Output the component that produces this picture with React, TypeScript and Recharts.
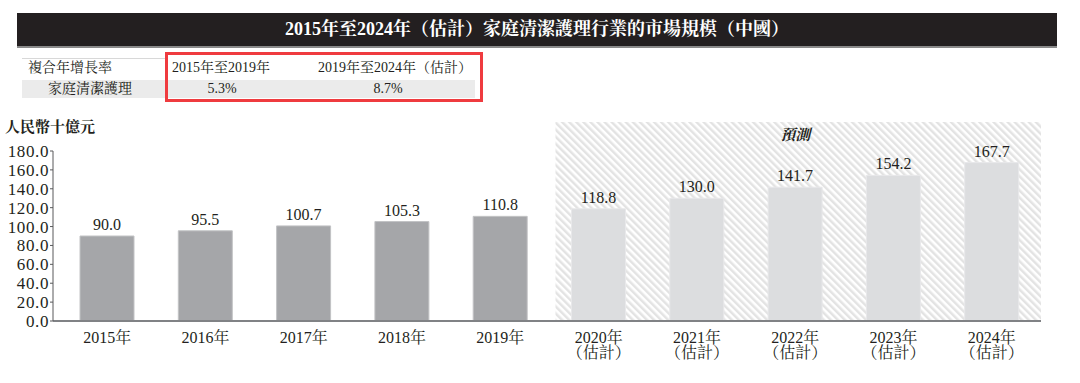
import React from "react";
import {
  BarChart,
  Bar,
  Cell,
  XAxis,
  YAxis,
  LabelList,
  ReferenceArea,
} from "recharts";

const years = ["2015年", "2016年", "2017年", "2018年", "2019年", "2020年", "2021年", "2022年", "2023年", "2024年"];
const marketSize = [90.0, 95.5, 100.7, 105.3, 110.8, 118.8, 130.0, 141.7, 154.2, 167.7];
const isForecast = [false, false, false, false, false, true, true, true, true, true];
const yTicks = [0, 20, 40, 60, 80, 100, 120, 140, 160, 180];

const cagrLabel = "複合年增長率";
const cagrRow = "家庭清潔護理";
const cagrPeriods = ["2015年至2019年", "2019年至2024年（估計）"];
const cagrValues = ["5.3%", "8.7%"];

const title = "2015年至2024年（估計）家庭清潔護理行業的市場規模（中國）";
const unitLabel = "人民幣十億元";
const forecastLabel = "預測";
const estimateNote = "（估計）";

const data = years.map((year, i) => ({
  year,
  value: marketSize[i],
  forecast: isForecast[i],
}));

const FONT = "'Liberation Serif', 'Noto Serif CJK TC', 'Noto Sans CJK TC', serif";
const TEXT = "#231f20";

function YearTick({ x, y, payload, index }: any) {
  const forecast = isForecast[index];
  return (
    <text x={x} y={y} textAnchor="middle" fill={TEXT} fontSize={16} fontFamily={FONT}>
      <tspan x={x} dy={14}>{payload.value}</tspan>
      {forecast && <tspan x={x} dy={15}>{estimateNote}</tspan>}
    </text>
  );
}

function HatchShape(props: any) {
  const { x, y, width, height } = props;
  return <rect x={x + 6} y={y} width={width - 6} height={height} fill="url(#hatch)" />;
}

export default function App() {
  return (
    <div
      style={{
        position: "absolute",
        left: 0,
        top: 0,
        width: 1080,
        height: 383,
        background: "#fff",
        fontFamily: FONT,
        color: TEXT,
        overflow: "hidden",
      }}
    >
      {/* title bar */}
      <div
        style={{
          position: "absolute",
          left: 17,
          top: 13,
          width: 1040,
          height: 33,
          background: "#231f20",
          borderBottom: "2px solid #8a8a8a",
          color: "#fff",
          fontWeight: "bold",
          fontSize: 18,
          lineHeight: "33px",
          textAlign: "center",
        }}
      >
        {title}
      </div>

      {/* CAGR table */}
      <div style={{ position: "absolute", left: 22, top: 58, width: 145, height: 20, borderTop: "1px solid #d8d8d8" }} />
      <div style={{ position: "absolute", left: 22, top: 80, width: 453, height: 18, background: "#ebebeb" }} />
      <div style={{ position: "absolute", left: 28, top: 58, fontSize: 14, lineHeight: "20px" }}>{cagrLabel}</div>
      <div style={{ position: "absolute", left: 48, top: 80, width: 84, textAlign: "center", fontSize: 14, lineHeight: "18px" }}>{cagrRow}</div>
      <div style={{ position: "absolute", left: 172, top: 58, fontSize: 14, lineHeight: "20px" }}>{cagrPeriods[0]}</div>
      <div style={{ position: "absolute", left: 318, top: 58, fontSize: 14, lineHeight: "20px" }}>{cagrPeriods[1]}</div>
      <div style={{ position: "absolute", left: 172, top: 80, width: 100, textAlign: "center", fontSize: 14, lineHeight: "18px" }}>{cagrValues[0]}</div>
      <div style={{ position: "absolute", left: 338, top: 80, width: 100, textAlign: "center", fontSize: 14, lineHeight: "18px" }}>{cagrValues[1]}</div>
      <div
        style={{
          position: "absolute",
          left: 165,
          top: 52,
          width: 318,
          height: 50,
          boxSizing: "border-box",
          border: "3px solid #ef3b3f",
        }}
      />

      {/* unit */}
      <div style={{ position: "absolute", left: 5, top: 117, fontSize: 15, fontWeight: "bold", lineHeight: "20px" }}>{unitLabel}</div>

      <div style={{ position: "absolute", left: 0, top: 0 }}>
        <BarChart
          width={1080}
          height={383}
          data={data}
          margin={{ top: 151, right: 39, bottom: 22, left: 0 }}
        >
          <defs>
            <pattern id="hatch" width="5" height="5" patternUnits="userSpaceOnUse" patternTransform="rotate(-45)">
              <rect x="0" y="0" width="5" height="5" fill="#ffffff" />
              <rect x="0" y="0" width="2.5" height="5" fill="#e3e3e3" />
            </pattern>
          </defs>
          <ReferenceArea
            x1="2020年"
            x2="2024年"
            y1={0}
            y2={210.7}
            ifOverflow="visible"
            shape={<HatchShape />}
            label={{
              value: forecastLabel,
              position: "insideTop",
              offset: 7,
              fill: TEXT,
              fontSize: 15,
              fontWeight: "bold",
              fontStyle: "italic",
              fontFamily: FONT,
            }}
          />
          <XAxis
            dataKey="year"
            height={40}
            padding={{ left: 5, right: 0 }}
            axisLine={{ stroke: "#808285", strokeWidth: 2 }}
            tickLine={false}
            interval={0}
            tick={<YearTick />}
          />
          <YAxis
            width={53}
            domain={[0, 180]}
            ticks={yTicks}
            interval={0}
            tickFormatter={(v) => Number(v).toFixed(1)}
            axisLine={{ stroke: "#58595b" }}
            tickLine={{ stroke: "#58595b" }}
            tickSize={3}
            tickMargin={1}
            tick={{ fill: TEXT, fontSize: 17, fontFamily: FONT, letterSpacing: 0.6 }}
          />
          <Bar dataKey="value" barSize={54} isAnimationActive={false}>
            {data.map((d, i) => (
              <Cell
                key={i}
                fill={d.forecast ? "#dcdddf" : "#a5a6a9"}
                stroke={d.forecast ? "#e8e8ea" : "#c2c3c5"}
                strokeWidth={1}
              />
            ))}
            <LabelList
              dataKey="value"
              position="top"
              offset={6}
              formatter={(v: any) => Number(v).toFixed(1)}
              fill={TEXT}
              fontSize={16}
              fontFamily={FONT}
            />
          </Bar>
        </BarChart>
      </div>
    </div>
  );
}
